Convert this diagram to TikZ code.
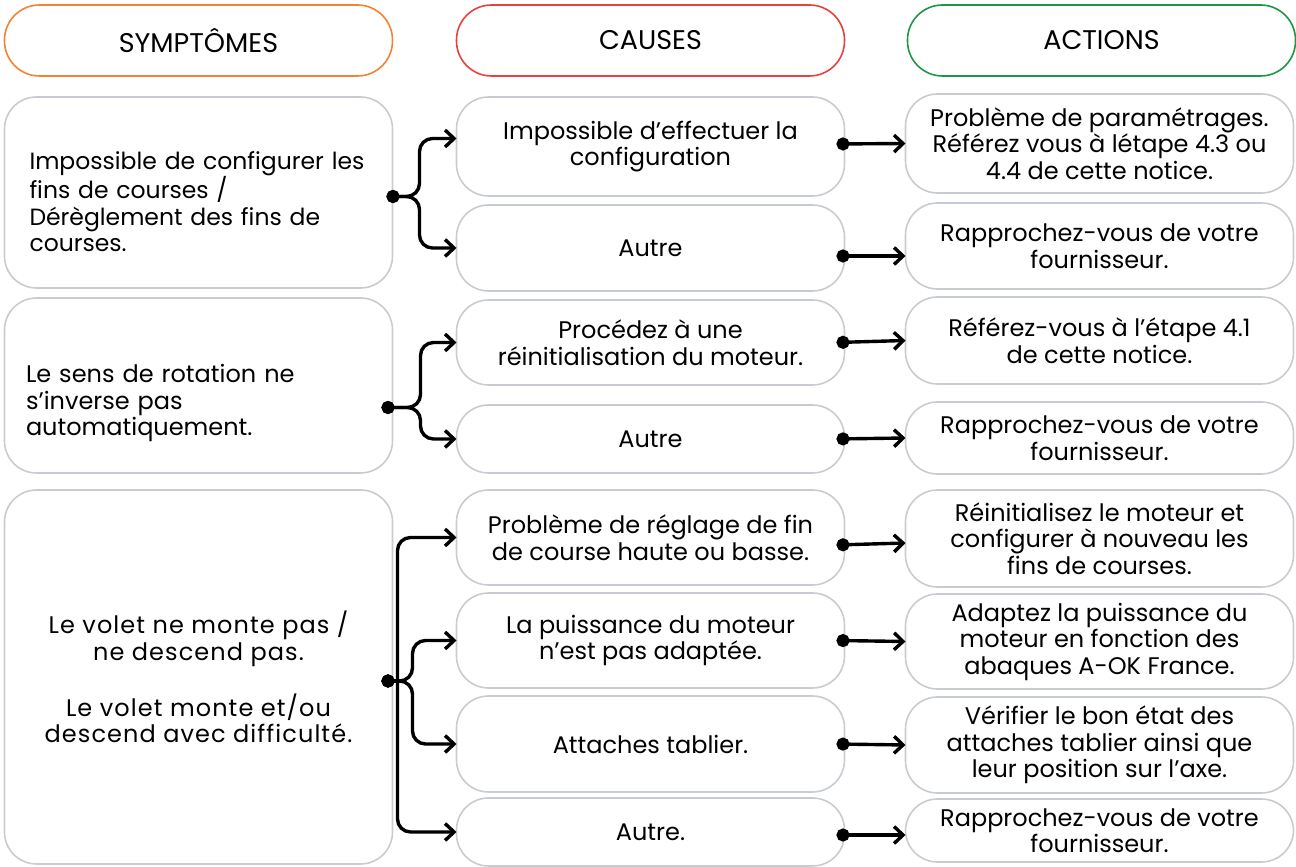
\documentclass[tikz,border=0pt]{standalone}
\usepackage{fontspec}
\setmainfont[Ligatures=NoCommon]{Poppins}
\usetikzlibrary{arrows.meta, positioning, calc}

\definecolor{symorange}{RGB}{245,130,50}
\definecolor{causered}{RGB}{232,64,64}
\definecolor{actgreen}{RGB}{30,150,72}
\definecolor{boxgray}{RGB}{200,204,210}

\begin{document}
\begin{tikzpicture}[
  x=1pt, y=1pt,
  every node/.style={font=\fontsize{24}{26.5}\selectfont},
  head/.style={rectangle, draw, line width=1.6pt, outer sep=0pt, rounded corners=35pt, minimum width=388pt, minimum height=71pt, font=\fontsize{27}{30}\selectfont},
  card/.style={rectangle, draw=boxgray, line width=1.6pt, outer sep=0pt, rounded corners=32pt, minimum width=388pt, align=center, inner sep=4pt},
  link/.style={{Circle[length=13pt]}-{Straight Barb[length=9pt, width=17pt]}, line width=3.4pt},
  fork/.style={link, rounded corners=13pt},
  spot/.style={{Circle[length=13pt]}-, line width=3.4pt}
]
\useasboundingbox (0,0) rectangle (1296,867);

% Headers
\node[head, draw=symorange] (hsym) at (198.5,826.5) {SYMPTÔMES};
\node[head, draw=causered, right=64pt of hsym] (hcau) {CAUSES};
\node[head, draw=actgreen, right=63pt of hcau] (hact) {ACTIONS};

% Symptoms
\node[card, below=21pt of hsym, minimum height=191pt, align=left, text width=338pt, text height=36pt, font=\fontsize{23.5}{26.5}\selectfont] (s1) {Impossible de configurer les\\fins de courses /\\Dérèglement des fins de\\courses.};
\node[card, below=10pt of s1, minimum height=175pt, align=left, text width=345pt, text height=54pt] (s2) {Le sens de rotation ne\\s’inverse pas\\automatiquement.};
\node[card, below=17pt of s2, minimum height=374pt, font=\fontsize{24}{26.5}\selectfont\addfontfeature{LetterSpace=4.5}] (s3) {Le volet ne monte pas /\\ne descend pas.\\[26.5pt]Le volet monte et/ou\\descend avec difficulté.};

% Causes
\node[card, below=21pt of hcau, minimum height=99pt] (c1) {Impossible d’effectuer la\\configuration};
\node[card, below=9pt of c1, minimum height=86pt] (c2) {Autre};
\node[card, below=9pt of c2, minimum height=85pt] (c3) {Procédez à une\\réinitialisation du moteur.};
\node[card, below=20pt of c3, minimum height=68pt] (c4) {Autre};
\node[card, below=17pt of c4, minimum height=95pt] (c5) {Problème de réglage de fin\\de course haute ou basse.};
\node[card, below=8pt of c5, minimum height=95pt] (c6) {La puissance du moteur\\n’est pas adaptée.};
\node[card, below=8pt of c6, minimum height=96pt] (c7) {Attaches tablier.};
\node[card, below=6pt of c7, minimum height=68pt] (c8) {Autre.};

% Actions
\node[card, below=18pt of hact, xshift=-2pt, minimum height=99pt] (a1) {Problème de paramétrages.\\Référez vous à létape 4.3 ou\\4.4 de cette notice.};
\node[card, below=10pt of a1, minimum height=86pt] (a2) {Rapprochez-vous de votre\\fournisseur.};
\node[card, below=8pt of a2, minimum height=87pt] (a3) {Référez-vous à l’étape 4.1\\de cette notice.};
\node[card, below=18pt of a3, minimum height=72pt] (a4) {Rapprochez-vous de votre\\fournisseur.};
\node[card, below=16pt of a4, minimum height=97pt] (a5) {Réinitialisez le moteur et\\configurer à nouveau les\\fins de courses.};
\node[card, below=7pt of a5, minimum height=95pt] (a6) {Adaptez la puissance du\\moteur en fonction des\\abaques A-OK France.};
\node[card, below=8pt of a6, minimum height=96pt] (a7) {Vérifier le bon état des\\attaches tablier ainsi que\\leur position sur l’axe.};
\node[card, below=6pt of a7, minimum height=63pt] (a8) {Rapprochez-vous de votre\\fournisseur.};

% Symptoms to causes
\coordinate (s1o) at ([xshift=-6pt, yshift=-4pt]s1.east);
\draw[fork] (s1o) -- ++(33pt,0) |- ([yshift=8pt]c1.west);
\draw[fork] (s1o) -- ++(33pt,0) |- (c2.west);

\coordinate (s2o) at ([xshift=-11pt, yshift=-22pt]s2.east);
\draw[fork] (s2o) -- ++(39pt,0) |- (c3.west);
\draw[fork] (s2o) -- ++(39pt,0) |- (c4.west);

\coordinate (s3o) at ([xshift=-11pt, yshift=-4pt]s3.east);
\coordinate (s3j) at ([xshift=16pt]s3o);
\draw[spot] (s3o) -- (s3j);
\draw[fork, {}-{Straight Barb[length=9pt, width=17pt]}] (s3j) |- (c5.west);
\draw[fork, {}-{Straight Barb[length=9pt, width=17pt]}] (s3j) |- (c8.west);
\draw[fork] (s3o) -- ++(31pt,0) |- (c6.west);
\draw[fork] (s3o) -- ++(31pt,0) |- (c7.west);

% Causes to actions
\draw[link] ([xshift=-8pt, yshift=2.5pt]c1.east) -- (a1.west);
\draw[link] ([xshift=-8pt, yshift=-8pt]c2.east) -- ([yshift=-10pt]a2.west);
\draw[link] ([xshift=-8pt]c3.east) -- (a3.west);
\draw[link] ([xshift=-8pt]c4.east) -- (a4.west);
\draw[link] ([xshift=-8pt, yshift=-7.5pt]c5.east) -- ([yshift=-4.5pt]a5.west);
\draw[link] ([xshift=-8pt]c6.east) -- (a6.west);
\draw[link] ([xshift=-8pt]c7.east) -- (a7.west);
\draw[link] ([xshift=-8pt, yshift=-3pt]c8.east) -- ([yshift=-4.5pt]a8.west);

\end{tikzpicture}
\end{document}
